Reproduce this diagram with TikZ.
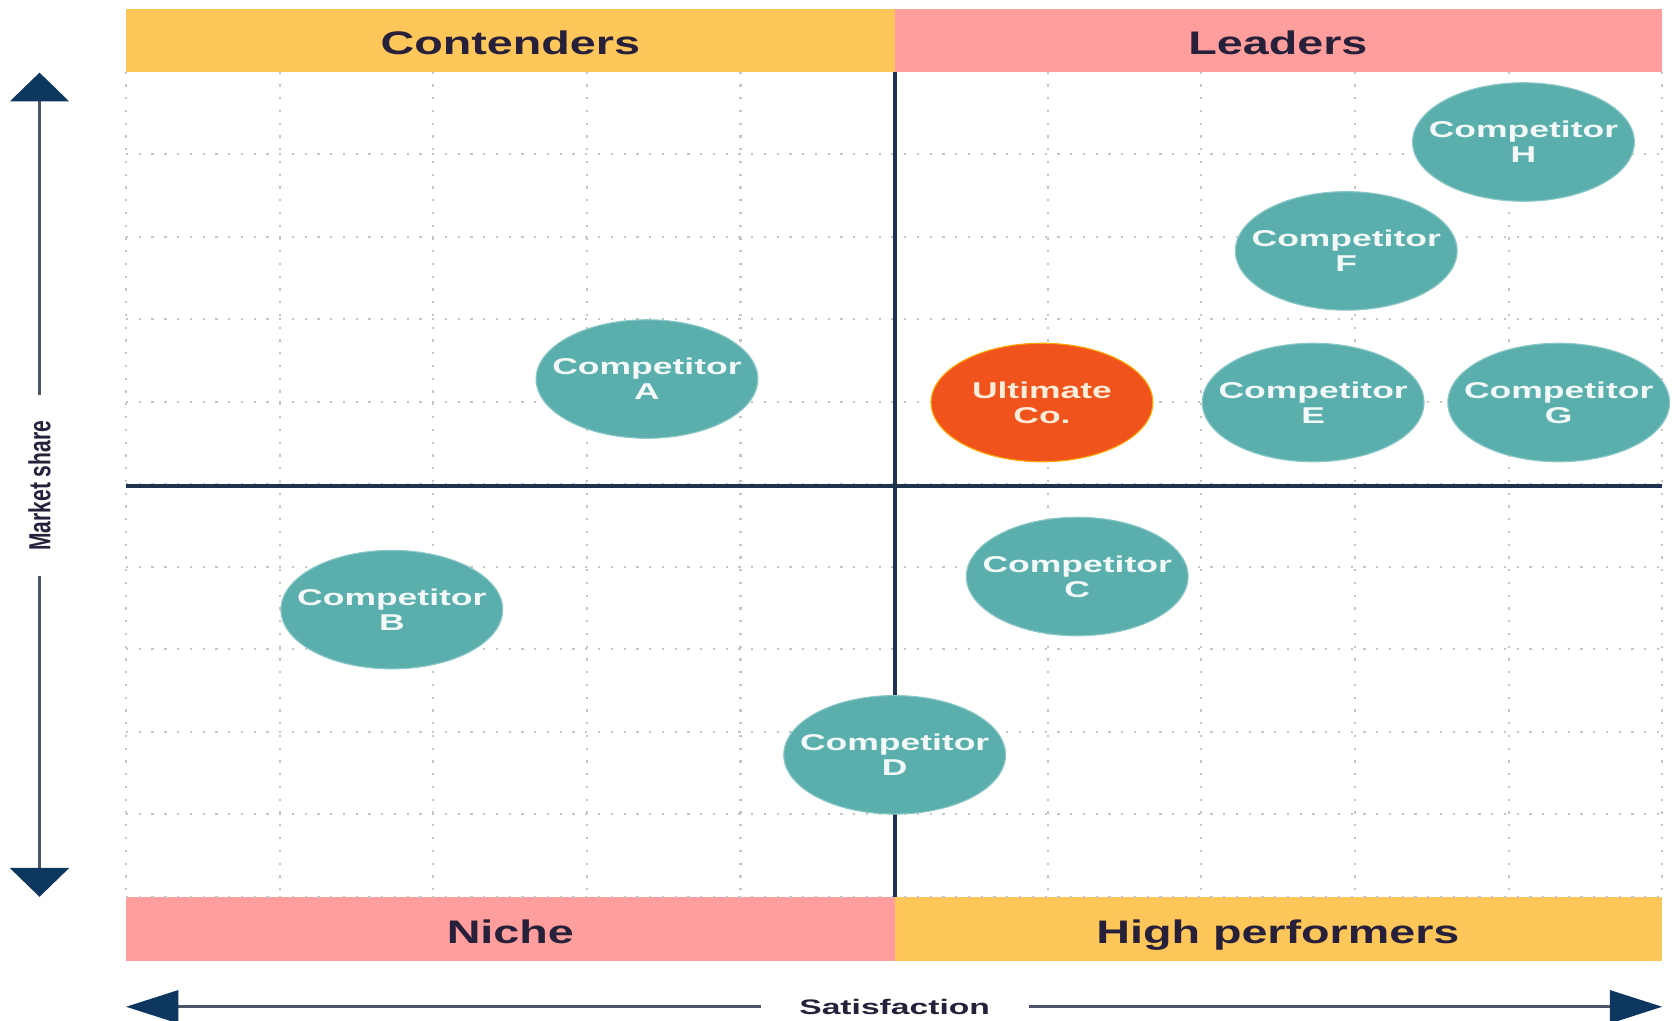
\documentclass[tikz,border=0pt]{standalone}
\usepackage{fontspec}
\setmainfont{Liberation Sans}
\usepackage{xcolor}
\usepackage{tikz}
\usetikzlibrary{shapes.geometric,arrows.meta,positioning}

\definecolor{bandyellow}{HTML}{FFC65A}
\definecolor{bandpink}{HTML}{FF9E9C}
\definecolor{bubbleteal}{HTML}{5AAFAD}
\definecolor{ultorange}{HTML}{F0531B}
\definecolor{arrownavy}{HTML}{0E3760}
\definecolor{axisgray}{HTML}{4A5566}
\definecolor{divnavy}{HTML}{1E3350}
\definecolor{labelink}{HTML}{26203A}

\begin{document}
\begin{tikzpicture}[
    x=0.1mm, y=-0.1mm,
    bandlabel/.style={font=\fontsize{8.7}{10}\selectfont\bfseries, text=labelink, xscale=1.43,
        text height=1.6ex, text depth=0.2ex},
    bubble/.style={ellipse, fill=bubbleteal, draw=bubbleteal!70!white, line width=0.3pt,
        minimum width=13.4mm, minimum height=11.1mm, inner xsep=-1.5mm, inner ysep=0pt,
        align=center, xscale=1.55,
        font=\fontsize{6.1}{6.6}\selectfont\bfseries, text=white!92!bubbleteal},
    ultimate/.style={fill=ultorange, draw=orange!70!yellow, text=white!85!orange},
    gridline/.style={gray!45, line width=0.55pt, dash pattern=on 0.6pt off 2.8pt},
    divider/.style={divnavy, line width=1pt},
    axislabel/.style={font=\fontsize{5.6}{6}\selectfont\bfseries, text=labelink, inner ysep=0pt},
    axisline/.style={axisgray, line width=0.85pt}
]
    \useasboundingbox (0,0) rectangle (1568,956);

    % Quadrant bands
    \fill[bandyellow] (118,8) rectangle (838,67);
    \fill[bandpink] (838,8) rectangle (1557,67);
    \fill[bandpink] (118,840) rectangle (838,900);
    \fill[bandyellow] (838,840) rectangle (1557,900);
    \node[bandlabel] (contenders) at (478,38) {Contenders};
    \node[bandlabel] (leaders) at (1197,38) {Leaders};
    \node[bandlabel] (niche) at (478,871) {Niche};
    \node[bandlabel] (highperf) at (1197,871) {High performers};

    % Dotted grid
    \foreach \gx in {0,...,10}
        \draw[gridline] ({118+143.9*\gx},67) -- ({118+143.9*\gx},840);
    \foreach \gy in {1,...,10}
        \draw[gridline] (118,{67+77.3*\gy}) -- (1557,{67+77.3*\gy});

    % Quadrant dividers
    \draw[divider] (838,67) -- (838,840);
    \draw[divider] (118,455) -- (1557,455);

    % Competitors
    \node[bubble] (compH) at (1427,133) {Competitor\\H};
    \node[bubble] (compF) at (1261,235) {Competitor\\F};
    \node[bubble] (compA) at (606,355) {Competitor\\A};
    \node[bubble, ultimate] (ultimate) at (976,377) {Ultimate\\Co.};
    \node[bubble] (compE) at (1230,377) {Competitor\\E};
    \node[bubble] (compG) at (1460,377) {Competitor\\G};
    \node[bubble] (compC) at (1009,540) {Competitor\\C};
    \node[bubble] (compB) at (367,571) {Competitor\\B};
    \node[bubble] (compD) at (838,707) {Competitor\\D};

    % Axes
    \coordinate (ytop) at (37,68);
    \coordinate (ybot) at (37,840);
    \node[axislabel, rotate=90, yscale=1.45, inner xsep=2.35mm] (yaxis) at (37,455) {Market share};
    \draw[axisline, -{Triangle[width=5.5mm, length=2.7mm, color=arrownavy]}] (yaxis.east) -- (ytop);
    \draw[axisline, -{Triangle[width=5.5mm, length=2.7mm, color=arrownavy]}] (yaxis.west) -- (ybot);

    \coordinate (xleft) at (118,943);
    \coordinate (xright) at (1557,943);
    \node[axislabel, xscale=1.6, inner xsep=2.2mm] (xaxis) at (838,943) {Satisfaction};
    \draw[axisline, -{Triangle[width=3.05mm, length=4.9mm, color=arrownavy]}] (xaxis.west) -- (xleft);
    \draw[axisline, -{Triangle[width=3.05mm, length=4.9mm, color=arrownavy]}] (xaxis.east) -- (xright);

\end{tikzpicture}
\end{document}
